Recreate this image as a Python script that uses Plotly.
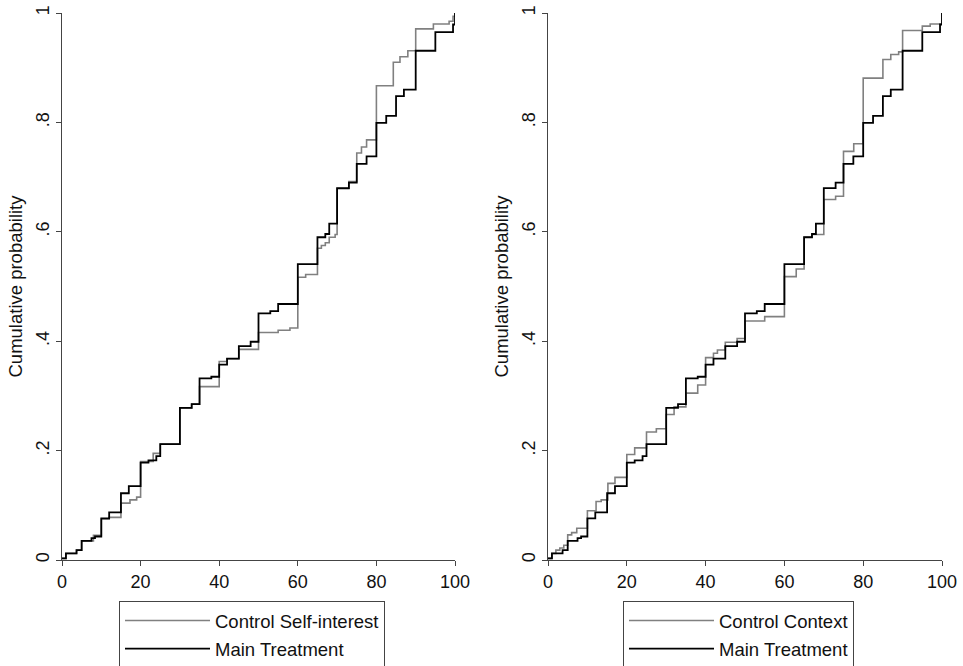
import plotly.graph_objects as go

# Main Treatment ECDF (step points: value, cumulative probability after the value)
main_x = [0, 1, 3.7, 5, 7.5, 8.4, 10, 12, 15, 17, 20, 22, 24, 25, 30, 33, 35, 38, 40, 42, 45, 48, 50, 53, 55,
          60, 65, 67, 68, 70, 73, 75, 77.5, 80, 82.5, 85, 87, 90, 95, 99.5, 100]
main_y = [0.003, 0.012, 0.018, 0.035, 0.04, 0.043, 0.076, 0.087, 0.122, 0.135, 0.178, 0.182, 0.19, 0.212, 0.278,
          0.285, 0.332, 0.335, 0.357, 0.368, 0.391, 0.399, 0.451, 0.455, 0.468,
          0.541, 0.59, 0.596, 0.615, 0.68, 0.69, 0.724, 0.738, 0.799, 0.812, 0.848, 0.86, 0.931, 0.965, 0.979, 1.0]

# Control Self-interest ECDF
self_x = [0, 1, 3.7, 5, 8, 10, 12, 15, 17.3, 19, 20, 23.2, 25, 30, 33, 35, 40, 42, 45, 50, 55, 58,
          60, 62, 65, 66, 67, 68, 69.5, 70, 73, 75, 76.2, 77.5, 80, 84.3, 86, 88, 90, 94.5, 98.5, 99.5, 100]
self_y = [0.003, 0.012, 0.018, 0.035, 0.045, 0.075, 0.078, 0.104, 0.11, 0.115, 0.18, 0.195, 0.212, 0.278, 0.285,
          0.317, 0.363, 0.368, 0.385, 0.416, 0.42, 0.424,
          0.517, 0.522, 0.57, 0.575, 0.58, 0.59, 0.595, 0.679, 0.692, 0.744, 0.755, 0.768, 0.867, 0.91, 0.92, 0.931,
          0.971, 0.98, 0.985, 0.994, 1.0]

# Control Context ECDF
ctx_x = [0, 1, 2, 3, 4, 5, 6, 7.3, 10, 12.2, 13.5, 15.2, 17, 20, 22, 25, 27.5, 30, 32, 35, 38, 40, 42, 43, 45,
         48, 50, 55, 60, 63, 65, 67, 70, 73, 75, 77.6, 80, 85, 87, 89, 90, 95, 97, 100]
ctx_y = [0.003, 0.012, 0.018, 0.022, 0.027, 0.046, 0.05, 0.058, 0.09, 0.107, 0.11, 0.14, 0.151, 0.193, 0.205,
         0.234, 0.24, 0.266, 0.28, 0.305, 0.32, 0.37, 0.378, 0.384, 0.398,
         0.405, 0.437, 0.445, 0.518, 0.532, 0.59, 0.595, 0.659, 0.665, 0.747, 0.761, 0.881, 0.915, 0.924, 0.929,
         0.968, 0.976, 0.98, 1.0]

x_ticks = [0, 20, 40, 60, 80, 100]
y_ticks = [0, 0.2, 0.4, 0.6, 0.8, 1]
y_ticktext = ["0", ".2", ".4", ".6", ".8", "1"]

GRAY = "#808080"
BLACK = "#000000"
AXIS = "#444444"
FONT = "Liberation Sans, Arial, sans-serif"

W, H = 963, 666
fig = go.Figure()

fig.add_trace(go.Scatter(x=self_x, y=self_y, mode="lines", line=dict(color=GRAY, width=1.6, shape="hv"),
                         name="Control Self-interest", xaxis="x", yaxis="y", legend="legend", legendgroup="a"))
fig.add_trace(go.Scatter(x=main_x, y=main_y, mode="lines", line=dict(color=BLACK, width=1.8, shape="hv"),
                         name="Main Treatment", xaxis="x", yaxis="y", legend="legend", legendgroup="b"))
fig.add_trace(go.Scatter(x=ctx_x, y=ctx_y, mode="lines", line=dict(color=GRAY, width=1.6, shape="hv"),
                         name="Control Context", xaxis="x2", yaxis="y2", legend="legend2", legendgroup="c"))
fig.add_trace(go.Scatter(x=main_x, y=main_y, mode="lines", line=dict(color=BLACK, width=1.8, shape="hv"),
                         name="Main Treatment", xaxis="x2", yaxis="y2", legend="legend2", legendgroup="d"))

ydom = [(H - 560) / H, (H - 13) / H]

def xaxis(dom, anchor):
    return dict(domain=dom, anchor=anchor, range=[0, 100], tickvals=x_ticks, showgrid=False, zeroline=False,
                showline=True, linecolor=AXIS, linewidth=1.2, ticks="outside", ticklen=5, tickcolor=AXIS,
                tickfont=dict(family=FONT, size=18, color="#111"), fixedrange=True)

def yaxis(anchor):
    return dict(domain=ydom, anchor=anchor, range=[0, 1], tickvals=y_ticks, ticktext=y_ticktext,
                tickangle=-90, showgrid=False, zeroline=False, showline=True, linecolor=AXIS, linewidth=1.2,
                ticks="outside", ticklen=5, tickcolor=AXIS, tickfont=dict(family=FONT, size=18, color="#111"),
                title=dict(text="Cumulative probability", font=dict(family=FONT, size=18.5, color="#111"), standoff=5),
                fixedrange=True)

legend_common = dict(orientation="v", xanchor="left", yanchor="top", bgcolor="white", bordercolor=AXIS,
                     borderwidth=1, font=dict(family=FONT, size=18.5, color="#111"), itemwidth=85,
                     tracegroupgap=1, traceorder="grouped")

fig.update_layout(
    width=W, height=H,
    margin=dict(l=0, r=0, t=0, b=0, autoexpand=False),
    paper_bgcolor="white", plot_bgcolor="white",
    xaxis=xaxis([62 / W, 455 / W], "y"),
    yaxis=yaxis("x"),
    xaxis2=xaxis([548 / W, 942 / W], "y2"),
    yaxis2=yaxis("x2"),
    legend=dict(x=119 / W, y=(H - 601) / H, **legend_common),
    legend2=dict(x=623 / W, y=(H - 601) / H, **legend_common),
    showlegend=True,
)

fig.write_html("out.html")
